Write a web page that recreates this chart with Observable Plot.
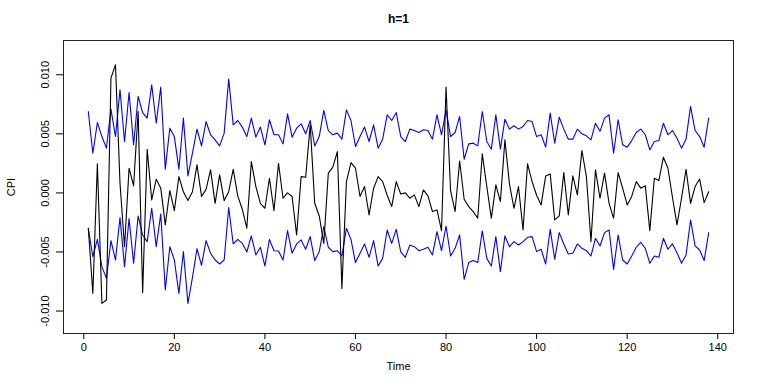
<!DOCTYPE html>
<html><head><meta charset="utf-8">
<script src="https://cdn.jsdelivr.net/npm/d3@7"></script>
<script src="https://cdn.jsdelivr.net/npm/@observablehq/plot@0.6"></script>
<style>html,body{margin:0;padding:0;background:#fff} svg{display:block}</style>
</head><body><div id="chart"></div>
<script>
const title = "h=1";
const xLabel = "Time";
const yLabel = "CPI";
const xTicks = [0, 20, 40, 60, 80, 100, 120, 140];
const yTicks = [-0.010, -0.005, 0, 0.005, 0.010];

const actual = [
-0.0030,-0.0085,0.00246,-0.00935,-0.00907,0.00972,0.01085,0.0008,-0.00455,0.00209,
0.00059,0.00689,-0.00845,0.0037,-0.0006,0.00116,0.0004,-0.00271,0.0002,-0.0015,
0.00138,0.0001,-0.00065,0.0001,0.00237,-0.0003,0.0003,0.00195,-0.00088,0.00153,
-0.00065,0.0001,0.002,-0.00025,-0.00138,-0.00299,0.00265,0.00054,-0.00088,-0.0013,
0.00124,-0.0015,0.00251,-0.00045,0.0000,-0.0003,-0.00356,0.00138,0.00133,0.00576,
-0.00088,-0.00195,-0.00427,0.00167,0.00218,0.0035,-0.00808,0.00096,0.00257,0.00209,
-0.0003,0.00054,-0.00186,0.0004,0.00138,0.00096,-0.0002,-0.00116,0.00096,-0.0001,
0.0000,-0.00045,-0.00017,-0.00116,0.00025,-0.00025,-0.00158,-0.00144,-0.00319,0.00895,
0.0002,-0.00158,0.0027,-0.00054,-0.00116,-0.00158,-0.00215,0.0033,0.00054,-0.00215,
0.00068,-0.00073,0.00449,0.00076,-0.0013,0.00054,-0.00314,0.00246,0.00096,-0.0002,
-0.00102,0.00144,0.00161,-0.00229,-0.00195,0.00172,-0.00186,0.00144,-0.00017,0.00359,
0.00138,-0.00412,0.00195,-0.00045,0.00167,-0.00088,-0.00215,0.00172,0.0004,-0.00102,
-0.0003,0.00096,0.0004,0.0006,-0.00319,0.00124,0.00105,0.00302,0.00209,-0.00037,
-0.00271,-0.00045,0.002,-0.00088,0.00054,0.00117,-0.00082,0.0001
];

const upper = [
0.00689,0.00336,0.00596,0.00477,0.00379,0.00709,0.00477,0.00873,0.00435,0.0085,
0.00407,0.00816,0.0068,0.00633,0.00915,0.0059,0.00895,0.00201,0.00548,0.00477,
0.00201,0.00633,0.00144,0.00336,0.0054,0.00398,0.00604,0.00492,0.00449,0.00398,
0.00506,0.00963,0.00576,0.00613,0.00557,0.00477,0.00633,0.00472,0.00557,0.00407,
0.00619,0.00492,0.00492,0.00415,0.00669,0.00472,0.00548,0.00585,0.005,0.00613,
0.00398,0.00477,0.00698,0.00528,0.00492,0.00506,0.00455,0.00703,0.00613,0.00393,
0.00477,0.00557,0.00435,0.00576,0.00379,0.00455,0.00661,0.00613,0.0068,0.00477,
0.00435,0.0054,0.00528,0.00511,0.00534,0.00528,0.00455,0.00661,0.00492,0.00703,
0.00477,0.00511,0.00647,0.00285,0.00415,0.00421,0.00398,0.00689,0.00435,0.0037,
0.00661,0.0037,0.00624,0.0054,0.00568,0.0054,0.00562,0.00613,0.00604,0.00477,
0.00492,0.00387,0.00675,0.00421,0.00641,0.0054,0.00455,0.00455,0.0054,0.005,
0.00483,0.00449,0.0059,0.00521,0.00633,0.00661,0.00336,0.00619,0.00407,0.00387,
0.00443,0.00511,0.0054,0.00492,0.00364,0.00435,0.00443,0.0059,0.00492,0.00528,
0.00463,0.00379,0.00455,0.00732,0.00528,0.00477,0.00387,0.00633
];

const lower = [
-0.00299,-0.0054,-0.00393,-0.00624,-0.00723,-0.00404,-0.00568,-0.00209,-0.00624,-0.00218,
-0.00596,-0.00195,-0.00356,-0.00412,-0.0013,-0.00455,-0.00178,-0.00822,-0.00455,-0.00568,
-0.0085,-0.00497,-0.00935,-0.00715,-0.00472,-0.00613,-0.00404,-0.00511,-0.00568,-0.00602,
-0.00568,-0.00124,-0.00432,-0.00393,-0.00427,-0.005,-0.00364,-0.00525,-0.0046,-0.00619,
-0.00393,-0.00489,-0.00492,-0.00568,-0.00319,-0.00511,-0.00432,-0.00398,-0.00477,-0.0037,
-0.00573,-0.00497,-0.00285,-0.0046,-0.00497,-0.00489,-0.00534,-0.00299,-0.00393,-0.0059,
-0.00511,-0.00432,-0.00545,-0.00404,-0.00619,-0.00554,-0.00314,-0.00427,-0.00308,-0.005,
-0.00545,-0.00441,-0.00455,-0.00489,-0.00477,-0.0046,-0.00525,-0.00328,-0.00489,-0.0028,
-0.00534,-0.00469,-0.00356,-0.00731,-0.0059,-0.00573,-0.0059,-0.00322,-0.00554,-0.00619,
-0.0037,-0.00667,-0.00364,-0.00455,-0.00412,-0.00441,-0.00412,-0.00376,-0.0037,-0.00497,
-0.00477,-0.00602,-0.00308,-0.00562,-0.00336,-0.00432,-0.00517,-0.00511,-0.00432,-0.00469,
-0.00489,-0.00534,-0.00384,-0.00449,-0.00336,-0.00314,-0.00647,-0.00356,-0.00568,-0.00602,
-0.00534,-0.0046,-0.00418,-0.00469,-0.00596,-0.00534,-0.00545,-0.00384,-0.00477,-0.00432,
-0.00506,-0.00596,-0.00525,-0.00229,-0.00449,-0.00483,-0.00573,-0.00336
];

const time = actual.map((_, i) => i + 1);
const rows = time.map((t, i) => ({t, actual: actual[i], upper: upper[i], lower: lower[i]}));

const chart = Plot.plot({
  width: 763,
  height: 382,
  marginTop: 40,
  marginBottom: 49,
  marginLeft: 63,
  marginRight: 30,
  style: {fontFamily: "'Liberation Sans', Arial, Helvetica, sans-serif", fontSize: "11px", background: "white", color: "black"},
  x: {domain: [-4.48, 143.48]},
  y: {domain: [-0.0119, 0.0129]},
  marks: [
    Plot.frame({stroke: "#222", strokeWidth: 1}),
    Plot.axisX({ticks: xTicks, tickSize: 6, tickPadding: 4, tickFormat: d => String(d),
      label: xLabel, labelAnchor: "center", labelArrow: "none", labelOffset: 36}),
    Plot.axisY({ticks: yTicks, tickSize: 7, tickPadding: 8, tickRotate: -90,
      tickFormat: d => d.toFixed(3),
      label: yLabel, labelAnchor: "center", labelArrow: "none", labelOffset: 56}),
    Plot.line(rows, {x: "t", y: "upper", stroke: "#0000ff", strokeWidth: 1.1}),
    Plot.line(rows, {x: "t", y: "lower", stroke: "#0000ff", strokeWidth: 1.1}),
    Plot.line(rows, {x: "t", y: "actual", stroke: "black", strokeWidth: 1.1}),
    Plot.text([title], {text: d => d, frameAnchor: "top", dy: -26, fontWeight: "bold", fontSize: 12})
  ]
});
document.getElementById("chart").appendChild(chart);
</script>
</body></html>
